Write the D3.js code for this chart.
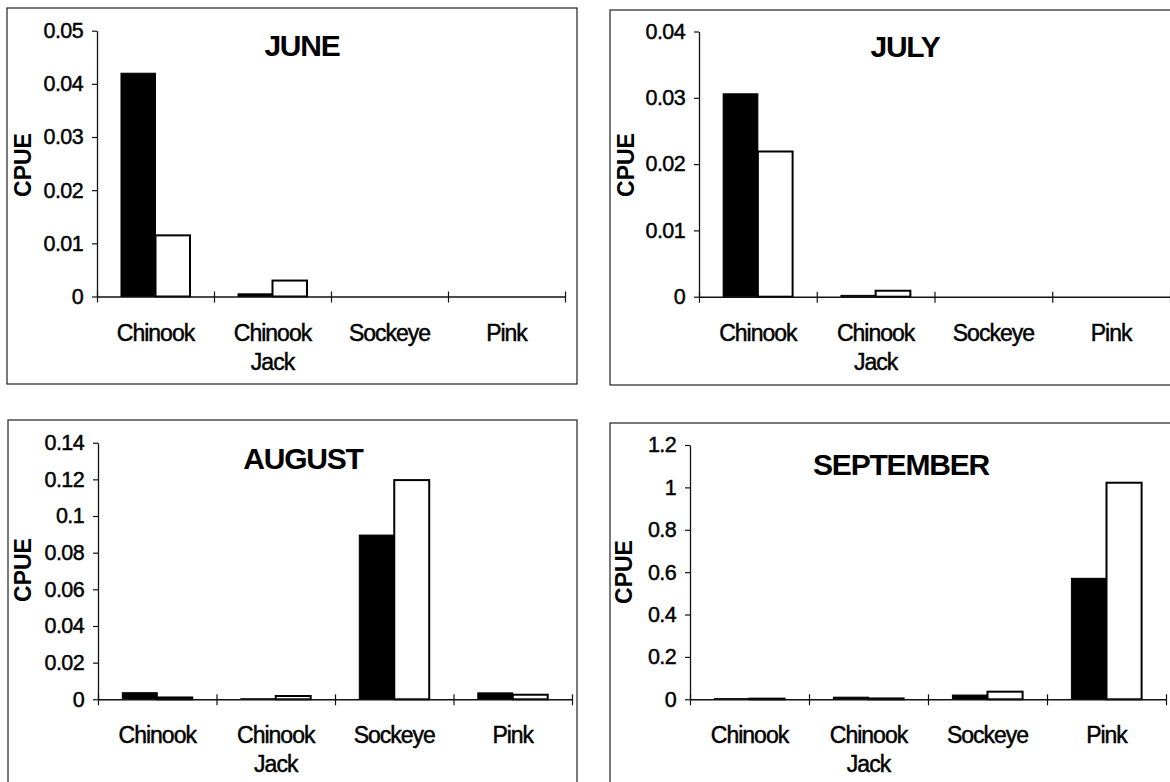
<!DOCTYPE html>
<html>
<head>
<meta charset="utf-8">
<script src="https://cdn.jsdelivr.net/npm/d3@7"></script>
<style>
  html, body { margin: 0; padding: 0; background: #fff; overflow: hidden; }
  svg { display: block; font-family: "Liberation Sans", Arial, sans-serif; }
  .ink { stroke: #000; stroke-width: 0.45px; paint-order: stroke; }
</style>
</head>
<body>
<svg id="chart" width="1170" height="782"></svg>
<script>
// Species groups along the category axis
const categories = ["Chinook", "Chinook Jack", "Sockeye", "Pink"];
const categoryLines = [["Chinook"], ["Chinook", "Jack"], ["Sockeye"], ["Pink"]];

// Monthly panel titles
const months = ["JUNE", "JULY", "AUGUST", "SEPTEMBER"];

// CPUE per species: filled series and open series
const juneFilled = [0.042, 0.0005, 0, 0];
const juneOpen = [0.0115, 0.003, 0, 0];
const julyFilled = [0.0306, 0.0002, 0, 0];
const julyOpen = [0.0219, 0.0009, 0, 0];
const augustFilled = [0.0036, 0.0003, 0.0896, 0.0035];
const augustOpen = [0.001, 0.0018, 0.1196, 0.0025];
const septemberFilled = [0.003, 0.01, 0.02, 0.571];
const septemberOpen = [0.003, 0.004, 0.036, 1.022];

// Value-axis ticks per panel
const juneTicks = [0, 0.01, 0.02, 0.03, 0.04, 0.05];
const julyTicks = [0, 0.01, 0.02, 0.03, 0.04];
const augustTicks = [0, 0.02, 0.04, 0.06, 0.08, 0.1, 0.12, 0.14];
const septemberTicks = [0, 0.2, 0.4, 0.6, 0.8, 1, 1.2];

const yLabel = "CPUE";

// Panel geometry
const panels = [
  { title: months[0], filled: juneFilled, open: juneOpen, ticks: juneTicks,
    frame: [7, 8, 570, 376], x0: 97, x1: 565, yTop: 30.7, yBase: 296.5,
    titleX: 302, titleY: 56, labelX: 23, labelY: 165 },
  { title: months[1], filled: julyFilled, open: julyOpen, ticks: julyTicks,
    frame: [610, 10, 580, 375], x0: 699, x1: 1170, yTop: 31.5, yBase: 296.7,
    titleX: 905, titleY: 57, labelX: 626, labelY: 165 },
  { title: months[2], filled: augustFilled, open: augustOpen, ticks: augustTicks,
    frame: [8, 420, 569, 400], x0: 98, x1: 572, yTop: 442.7, yBase: 699.3,
    titleX: 303, titleY: 469, labelX: 23, labelY: 570 },
  { title: months[3], filled: septemberFilled, open: septemberOpen, ticks: septemberTicks,
    frame: [610, 423, 580, 400], x0: 690, x1: 1166, yTop: 445, yBase: 699.3,
    titleX: 901, titleY: 475, labelX: 624, labelY: 572 }
];

const svg = d3.select("#chart");
const fmt = v => String(+v.toFixed(4));

panels.forEach(p => {
  const g = svg.append("g");

  // outer chart frame
  g.append("rect")
    .attr("x", p.frame[0]).attr("y", p.frame[1])
    .attr("width", p.frame[2]).attr("height", p.frame[3])
    .attr("fill", "none").attr("stroke", "#222").attr("stroke-width", 1.2);

  const x = d3.scaleBand().domain(categories).range([p.x0, p.x1]).paddingInner(0).paddingOuter(0);
  const y = d3.scaleLinear().domain([0, d3.max(p.ticks)]).range([p.yBase, p.yTop]);

  // bars
  const bw = x.bandwidth() * 0.295;
  const rows = categories.map((c, i) => ({ c, f: p.filled[i], o: p.open[i] }));

  g.selectAll(".filled").data(rows).join("rect")
    .attr("x", d => x(d.c) + x.bandwidth() / 2 - bw)
    .attr("y", d => y(d.f))
    .attr("width", bw)
    .attr("height", d => y(0) - y(d.f))
    .attr("fill", "#000")
    .attr("stroke", "#000").attr("stroke-width", d => d.f > 0 ? 1 : 0);

  g.selectAll(".open").data(rows).join("rect")
    .attr("x", d => x(d.c) + x.bandwidth() / 2)
    .attr("y", d => y(d.o))
    .attr("width", bw)
    .attr("height", d => y(0) - y(d.o))
    .attr("fill", "#fff")
    .attr("stroke", "#000").attr("stroke-width", d => d.o > 0 ? 2 : 0);

  // value axis
  const yAxis = g.append("g")
    .attr("transform", `translate(${p.x0},0)`)
    .call(d3.axisLeft(y).tickValues(p.ticks).tickFormat(fmt).tickSize(5).tickPadding(9).tickSizeOuter(0));
  yAxis.select(".domain").attr("stroke", "#111").attr("stroke-width", 1.3);
  yAxis.selectAll(".tick line").attr("stroke", "#111").attr("stroke-width", 1.2);
  yAxis.selectAll(".tick text")
    .attr("class", "ink")
    .attr("fill", "#000").attr("font-size", 21.5)
    .attr("font-family", "'Liberation Sans', Arial, sans-serif")
    .attr("letter-spacing", "-0.6px");

  // category axis with crossing tick marks at group boundaries
  const xb = d3.scaleLinear().domain([0, categories.length]).range([p.x0, p.x1]);
  const xAxis = g.append("g")
    .attr("transform", `translate(0,${p.yBase})`)
    .call(d3.axisBottom(xb).tickValues(d3.range(categories.length + 1)).tickFormat("").tickSize(6).tickSizeOuter(0));
  xAxis.select(".domain").attr("stroke", "#111").attr("stroke-width", 1.5);
  xAxis.selectAll(".tick line").attr("y1", -5).attr("stroke", "#111").attr("stroke-width", 1.2);

  // category labels
  categories.forEach((c, i) => {
    const t = g.append("text")
      .attr("class", "ink")
      .attr("x", x(c) + x.bandwidth() / 2)
      .attr("y", p.yBase + 44)
      .attr("text-anchor", "middle")
      .attr("font-size", 23)
      .attr("letter-spacing", "-1px")
      .attr("fill", "#000");
    categoryLines[i].forEach((line, k) => {
      t.append("tspan").attr("x", x(c) + x.bandwidth() / 2).attr("dy", k === 0 ? 0 : 29).text(line);
    });
  });

  // panel title
  g.append("text")
    .attr("x", p.titleX).attr("y", p.titleY)
    .attr("text-anchor", "middle")
    .attr("font-size", 30).attr("font-weight", "bold")
    .attr("letter-spacing", "-1.2px")
    .attr("fill", "#000")
    .text(p.title);

  // value axis title
  g.append("text")
    .attr("transform", `translate(${p.labelX},${p.labelY}) rotate(-90)`)
    .attr("text-anchor", "middle")
    .attr("dominant-baseline", "central")
    .attr("font-size", 23).attr("font-weight", "bold")
    .attr("fill", "#000")
    .text(yLabel);
});
</script>
</body>
</html>
